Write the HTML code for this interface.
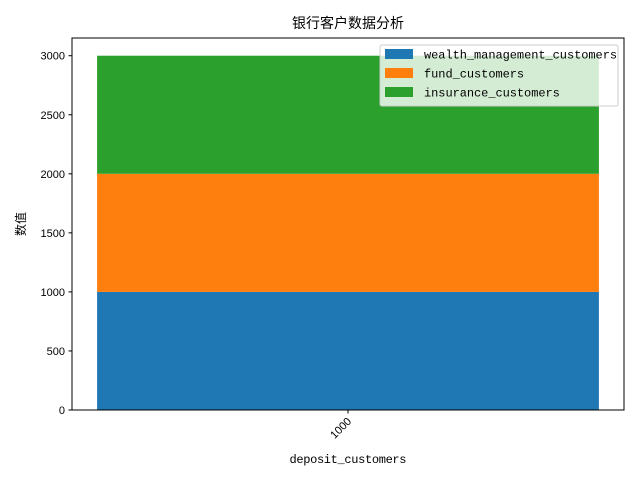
<!DOCTYPE html>
<html><head><meta charset="utf-8"><style>
body{margin:0;background:#fff;}
svg{display:block;font-family:"Liberation Mono","Noto Sans CJK SC",monospace;}
</style></head><body>
<svg id="chart" width="640" height="480">
<text x="348" y="28" text-anchor="middle" font-size="14" font-family="'Liberation Sans','Noto Sans CJK SC',sans-serif">银行客户数据分析</text>
<g id="bars"></g>
<rect x="72" y="38" width="552" height="372" fill="none" stroke="#000" stroke-width="1"/>
<g id="yticks"></g>
<g id="xticks"></g>
<text x="348" y="463" text-anchor="middle" font-size="12" textLength="117">deposit_customers</text>
<text transform="translate(25,224) rotate(-90)" text-anchor="middle" font-size="12" font-family="'Liberation Sans','Noto Sans CJK SC',sans-serif">数值</text>
<g id="legend">
<rect x="380" y="45" width="238" height="61" rx="2" fill="#fff" fill-opacity="0.8" stroke="#ccc"/>
</g>
</svg>
<script>
const categories=["1000"];
const seriesNames=["wealth_management_customers","fund_customers","insurance_customers"];
const wealth=[1000];
const fund=[1000];
const insurance=[1000];
const yTicks=[0,500,1000,1500,2000,2500,3000];
const colors=["#1f77b4","#ff7f0e","#2ca02c"];
const NS="http://www.w3.org/2000/svg";
const L=72,R=624,T=38,B=410,yMax=3150;
const y=v=>B-(v/yMax)*(B-T);
const n=categories.length;
const xMin=-0.5+0.1-0.04,xMax=n-1+0.5-0.1+0.04;
const x=v=>L+(v-xMin)/(xMax-xMin)*(R-L);
const series=[wealth,fund,insurance];
const bars=document.getElementById('bars');
categories.forEach((c,i)=>{let base=0;
series.forEach((s,k)=>{const r=document.createElementNS(NS,'rect');
r.setAttribute('x',x(i-0.4));r.setAttribute('width',x(i+0.4)-x(i-0.4));
r.setAttribute('y',y(base+s[i]));r.setAttribute('height',y(base)-y(base+s[i]));
r.setAttribute('fill',colors[k]);


bars.appendChild(r);base+=s[i];});});
const yt=document.getElementById('yticks');
yTicks.forEach(t=>{const l=document.createElementNS(NS,'line');
l.setAttribute('x1',L-3.5);l.setAttribute('x2',L);l.setAttribute('y1',y(t));l.setAttribute('y2',y(t));l.setAttribute('stroke','#000');


yt.appendChild(l);
const tx=document.createElementNS(NS,'text');tx.setAttribute('x',L-7);tx.setAttribute('y',y(t)+4);tx.setAttribute('text-anchor','end');tx.setAttribute('font-size','11');tx.setAttribute('font-family',"'Liberation Sans',sans-serif");tx.textContent=t;


yt.appendChild(tx);});
const xt=document.getElementById('xticks');
categories.forEach((c,i)=>{const l=document.createElementNS(NS,'line');
l.setAttribute('x1',x(i));l.setAttribute('x2',x(i));l.setAttribute('y1',B);l.setAttribute('y2',B+3.5);l.setAttribute('stroke','#000');


xt.appendChild(l);
const tx=document.createElementNS(NS,'text');tx.setAttribute('text-anchor','end');tx.setAttribute('font-size','11');tx.setAttribute('font-family',"'Liberation Sans',sans-serif");
tx.setAttribute('transform','translate('+(x(i)+4)+','+(B+12)+') rotate(-45)');tx.textContent=c;


xt.appendChild(tx);});
const lg=document.getElementById('legend');
seriesNames.forEach((s,k)=>{const yy=49+k*19;
const r=document.createElementNS(NS,'rect');r.setAttribute('x',385);r.setAttribute('y',yy);r.setAttribute('width',28);r.setAttribute('height',10);r.setAttribute('fill',colors[k]);


lg.appendChild(r);
const t=document.createElementNS(NS,'text');t.setAttribute('x',424);t.setAttribute('y',yy+9.5);t.setAttribute('font-size','12');t.setAttribute('textLength',s.length*7.15);t.textContent=s;


lg.appendChild(t);});
</script>
</body></html>
